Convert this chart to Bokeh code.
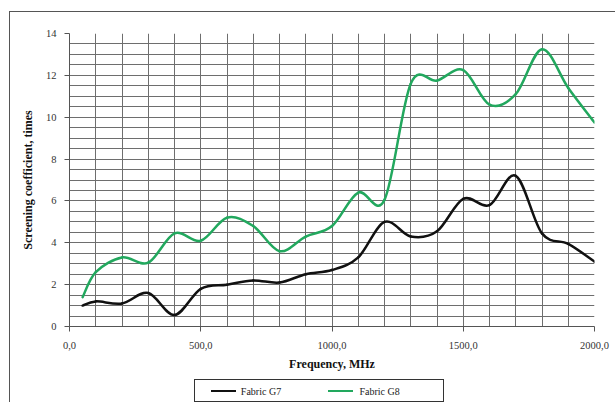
from bokeh.plotting import figure
from bokeh.models import Range1d, LinearAxis, FixedTicker
from bokeh.embed import file_html
from bokeh.resources import INLINE

freq = [50, 100, 200, 300, 400, 500, 600, 700, 800, 900, 1000,
        1100, 1200, 1300, 1400, 1500, 1600, 1700, 1800, 1900, 2000]
g7 = [1.0, 1.2, 1.1, 1.6, 0.55, 1.8, 2.0, 2.2, 2.1, 2.5, 2.7,
      3.3, 5.0, 4.3, 4.55, 6.1, 5.8, 7.2, 4.45, 3.95, 3.1]
g8 = [1.4, 2.6, 3.3, 3.05, 4.45, 4.1, 5.2, 4.8, 3.6, 4.3, 4.8,
      6.4, 6.05, 11.6, 11.75, 12.25, 10.6, 11.1, 13.25, 11.4, 9.75]
series_names = ["Fabric G7", "Fabric G8"]
x_ticks = [0, 500, 1000, 1500, 2000]
x_tick_labels = ["0,0", "500,0", "1000,0", "1500,0", "2000,0"]
y_ticks = [0, 2, 4, 6, 8, 10, 12, 14]

SERIF = "Liberation Serif"

p = figure(width=615, height=402, output_backend="svg", toolbar_location=None,
           x_range=Range1d(0, 2000), y_range=Range1d(0, 14),
           min_border_left=69, min_border_right=21, min_border_top=33, min_border_bottom=76)
p.outline_line_color = None
p.background_fill_color = "white"
p.border_fill_alpha = 0

colors = ["#111111", "#22a85e"]

# outer chart frame, legend frame and legend swatches as thin CSS background lines
L = "linear-gradient(#555,#555)"
Lg = "linear-gradient(#333,#333)"
S1 = "linear-gradient(%s,%s)" % (colors[0], colors[0])
S2 = "linear-gradient(%s,%s)" % (colors[1], colors[1])
p.styles = {
    "background-color": "white",
    "background-image": ", ".join([L, L, Lg, Lg, Lg, Lg, S1, S2]),
    "background-size": "606px 1px, 1px 391px, 250px 1px, 1px 23px, 1px 23px, 250px 1px, 25px 2px, 25px 2px",
    "background-position": "9px 11px, 9px 11px, 194px 379px, 194px 379px, 443px 379px, 194px 401px, 211px 390px, 328px 390px",
    "background-repeat": "no-repeat",
}

# grid
p.xgrid.ticker = FixedTicker(ticks=list(range(0, 2001, 100)))
p.ygrid.ticker = FixedTicker(ticks=[i * 0.5 for i in range(29)])
for g in (p.xgrid, p.ygrid):
    g.grid_line_color = "#6e6e6e"
    g.grid_line_width = 1
    g.grid_line_alpha = 1

# axes
p.xaxis.ticker = FixedTicker(ticks=x_ticks)
p.xaxis.major_label_overrides = {t: l for t, l in zip(x_ticks, x_tick_labels)}
p.yaxis.ticker = FixedTicker(ticks=y_ticks)
for ax in (p.xaxis[0], p.yaxis[0]):
    ax.axis_line_color = "#555555"
    ax.major_tick_line_color = "#555555"
    ax.major_tick_out = 5
    ax.major_tick_in = 0
    ax.minor_tick_line_color = None
    ax.major_label_text_font = SERIF
    ax.major_label_text_font_size = "10.5px"
    ax.major_label_text_color = "#333333"
    ax.axis_label_text_font = SERIF
    ax.axis_label_text_font_size = "12px"
    ax.axis_label_text_font_style = "bold"
    ax.axis_label_text_color = "#111111"
p.xaxis.axis_label = "Frequency, MHz"
p.yaxis.axis_label = "Screening coefficient, times"
p.xaxis.major_label_standoff = 10
p.yaxis.major_label_standoff = 8
p.xaxis.axis_label_standoff = 5
p.yaxis.axis_label_standoff = 8

# legend texts: a bare extra axis below, its labels placed at the legend entries
legend_label_x = [729.5, 1181.0]
leg_axis = LinearAxis(ticker=FixedTicker(ticks=legend_label_x),
                      major_label_overrides={x: n for x, n in zip(legend_label_x, series_names)},
                      axis_line_color=None, major_tick_line_color=None, minor_tick_line_color=None,
                      major_tick_out=0, major_tick_in=0, major_label_standoff=12,
                      major_label_text_font=SERIF, major_label_text_font_size="10px",
                      major_label_text_color="#222222")
p.add_layout(leg_axis, "below")


def smooth_segments(xs, ys):
    n = len(xs)
    x0, y0, x1, y1, cx0, cy0, cx1, cy1 = [], [], [], [], [], [], [], []
    for i in range(n - 1):
        xa, ya = xs[max(i - 1, 0)], ys[max(i - 1, 0)]
        xb, yb = xs[i], ys[i]
        xc, yc = xs[i + 1], ys[i + 1]
        xd, yd = xs[min(i + 2, n - 1)], ys[min(i + 2, n - 1)]
        x0.append(xb); y0.append(yb); x1.append(xc); y1.append(yc)
        cx0.append(xb + (xc - xa) / 6); cy0.append(yb + (yc - ya) / 6)
        cx1.append(xc - (xd - xb) / 6); cy1.append(yc - (yd - yb) / 6)
    return dict(x0=x0, y0=y0, x1=x1, y1=y1, cx0=cx0, cy0=cy0, cx1=cx1, cy1=cy1)


for name, ys, col in zip(series_names, [g7, g8], colors):
    p.bezier(line_color=col, line_width=2.5, line_cap="round", **smooth_segments(freq, ys))

open("out.html", "w").write(file_html(p, INLINE))
